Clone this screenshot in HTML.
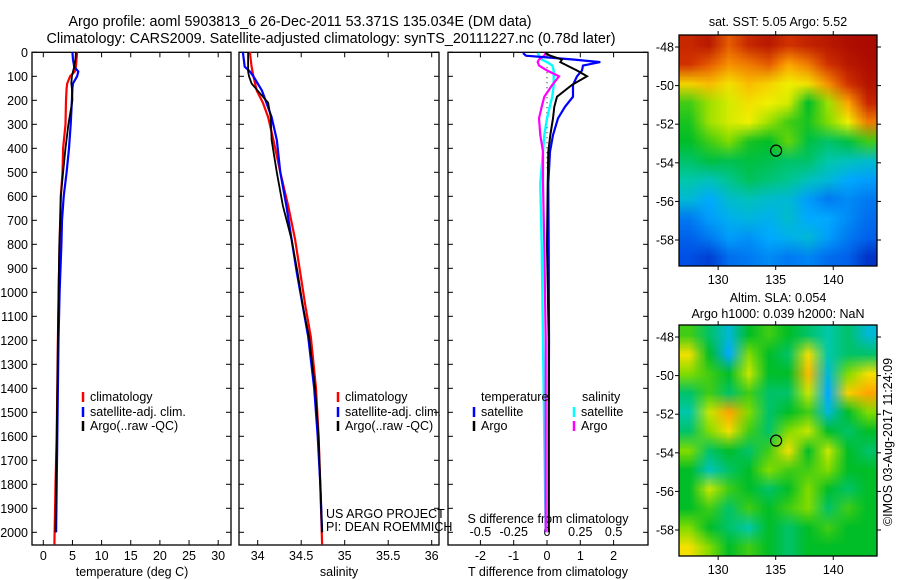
<!DOCTYPE html>
<html><head><meta charset="utf-8"><style>
body{margin:0;background:#fff;}
#wrap{position:relative;width:900px;height:580px;overflow:hidden;background:#fff;font-family:"Liberation Sans",sans-serif;}
canvas{position:absolute;}
svg{position:absolute;left:0;top:0;}
text{font-family:"Liberation Sans",sans-serif;font-size:12.5px;fill:#000;}
</style></head><body>
<div id="wrap">
<canvas id="sst" width="198" height="231" style="left:679px;top:35px"></canvas>
<canvas id="sla" width="198" height="231" style="left:679px;top:325px"></canvas>
<svg id="fig" width="900" height="580"></svg>
</div>
<script>
// ---- data ----
const tDepth=[0,30,60,80,100,130,150,200,300,400,500,600,700,800,1000,1200,1400,1600,1800,2000];
const tClim=[5.8,5.7,5.6,5.4,4.6,4.1,4.0,3.9,3.8,3.4,3.3,3.0,2.9,2.8,2.65,2.5,2.4,2.3,2.1,1.9];
const tSat=[5.0,5.1,5.3,6.0,5.8,5.1,5.0,4.9,4.7,4.4,4.0,3.5,3.2,3.1,2.8,2.6,2.5,2.4,2.3,2.2];
const tArgo=[5.6,5.5,5.3,5.1,4.9,4.8,4.9,5.0,4.3,3.8,3.4,3.0,2.9,2.75,2.6,2.5,2.4,2.3,2.2,2.1];
const sDepth=[0,30,60,80,100,130,160,210,270,365,500,640,780,920,1060,1185,1400,1600,1800,2000];
const sClim=[33.91,33.92,33.93,33.94,33.95,33.97,33.99,34.06,34.12,34.18,34.26,34.35,34.43,34.49,34.55,34.61,34.67,34.70,34.72,34.74];
const sSat=[33.83,33.84,33.85,33.91,33.95,34.0,34.05,34.1,34.16,34.22,34.26,34.33,34.39,34.45,34.52,34.58,34.65,34.69,34.72,34.74];
const sArgo=[33.89,33.89,33.89,33.89,33.9,33.93,34.0,34.12,34.15,34.16,34.22,34.29,34.39,34.46,34.52,34.59,34.66,34.70,34.72,34.74];
const dDepth=[3,14,30,41,55,76,100,136,185,227,275,345,414,546,800,1200,1600,2000];
const dTSat=[-0.72,-0.63,0.78,1.6,1.08,1.05,0.9,0.78,0.78,0.54,0.33,0.18,0.09,0.04,0.05,0.06,0.05,0.05];
const dTArgo=[-0.05,0.1,0.45,0.4,0.6,0.9,1.2,0.75,0.3,0.22,0.18,0.1,0.04,0.02,0.0,0.05,0.05,0.05];
const dSArgo=[-0.01,-0.02,-0.06,-0.07,-0.06,0.0,0.09,0.04,-0.02,-0.04,-0.06,-0.05,-0.03,-0.03,-0.02,-0.01,-0.01,-0.01];
const dSSat=[-0.07,-0.06,-0.04,0.0,0.04,0.05,0.05,0.05,0.04,0.02,0.0,-0.02,-0.03,-0.05,-0.04,-0.03,-0.02,-0.01];
const depthTicks=[0,100,200,300,400,500,600,700,800,900,1000,1100,1200,1300,1400,1500,1600,1700,1800,1900,2000];
const tTicks=[0,5,10,15,20,25,30];
const sTicks=[34,34.5,35,35.5,36];
const sTickLabels=["34","34.5","35","35.5","36"];
const dTTicks=[-2,-1,0,1,2];
const dSTicks=[-0.5,-0.25,0,0.25,0.5];
const dSTickLabels=["-0.5","-0.25","0","0.25","0.5"];
const latTicks=[-48,-50,-52,-54,-56,-58];
const lonTicks=[130,135,140];
const floatLon=135.034, floatLat=-53.371;
const sstGrid=[
[.92,.95,.85,.92,.95,.9,.93,.95,.97,.98],
[.9,.85,.8,.82,.85,.78,.82,.9,.95,.97],
[.72,.75,.7,.75,.72,.68,.7,.8,.9,.96],
[.55,.62,.66,.7,.68,.66,.5,.62,.78,.92],
[.52,.62,.66,.68,.62,.55,.52,.6,.68,.82],
[.5,.55,.6,.52,.5,.58,.48,.45,.48,.55],
[.45,.48,.47,.48,.47,.45,.45,.4,.38,.36],
[.4,.38,.42,.46,.44,.42,.38,.35,.3,.28],
[.35,.3,.36,.38,.36,.35,.28,.22,.25,.22],
[.22,.28,.32,.34,.32,.36,.3,.3,.25,.2],
[.18,.22,.28,.26,.3,.32,.35,.28,.22,.18],
[.15,.12,.2,.22,.25,.22,.24,.2,.18,.1]];
const slaGrid=[
[.55,.45,.35,.5,.55,.5,.45,.4,.45,.35],
[.7,.5,.3,.6,.5,.45,.7,.4,.45,.45],
[.6,.55,.5,.65,.5,.5,.75,.35,.6,.7],
[.45,.55,.45,.55,.45,.45,.65,.3,.72,.78],
[.4,.65,.78,.6,.45,.5,.55,.35,.5,.6],
[.45,.6,.7,.55,.45,.6,.65,.5,.45,.5],
[.6,.45,.5,.45,.55,.7,.5,.65,.5,.45],
[.5,.38,.45,.5,.6,.55,.55,.6,.5,.5],
[.5,.65,.55,.5,.45,.5,.6,.5,.45,.5],
[.5,.55,.45,.55,.5,.55,.6,.45,.55,.5],
[.6,.5,.45,.4,.5,.45,.5,.55,.5,.5],
[.7,.6,.5,.55,.5,.45,.5,.5,.5,.5]];

// ---- helpers ----
const NS="http://www.w3.org/2000/svg";
const svg=document.getElementById('fig');
function el(tag,attrs,parent){const e=document.createElementNS(NS,tag);for(const k in attrs)e.setAttribute(k,attrs[k]);(parent||svg).appendChild(e);return e;}
function txt(x,y,s,anchor){const t=el('text',{x:x,y:y,'text-anchor':anchor||'middle'});t.textContent=s;return t;}
const TOP=52.3, BOT=545, PXD=0.24;
const yD=d=>TOP+d*PXD;
const P1={l:32,r:231}, P2={l:239,r:439}, P3={l:448,r:648};
const xT=v=>43.3+v*5.83;
const xS=v=>257.7+(v-34)*87;
const xDT=v=>547+v*33.3;
const xDS=v=>547+v*133.2;

function panel(P,name){
  const r=el('rect',{x:P.l,y:TOP,width:P.r-P.l,height:BOT-TOP,fill:'none',stroke:'#000','stroke-width':1.3});
  
  
  depthTicks.forEach(d=>{const y=yD(d);
    el('line',{x1:P.l,x2:P.l+5,y1:y,y2:y,stroke:'#000'});
    el('line',{x1:P.r-5,x2:P.r,y1:y,y2:y,stroke:'#000'});});
}
function xticks(ticks,fx,labels,ly,name){
  ticks.forEach((v,i)=>{const x=fx(v);
    el('line',{x1:x,x2:x,y1:BOT,y2:BOT-5,stroke:'#000'});
    el('line',{x1:x,x2:x,y1:TOP,y2:TOP+5,stroke:'#000'});
    if(ly){const t=txt(x,ly,labels?labels[i]:String(v));
      
      }});
}
function line(xs,ds,fx,color,w,name){
  const pts=xs.map((v,i)=>fx(v).toFixed(1)+','+yD(ds[i]).toFixed(1)).join(' ');
  const p=el('polyline',{points:pts,fill:'none',stroke:color,'stroke-width':w,'stroke-linejoin':'miter'});
  
  
}
function legend(x,y,color,label,name){
  el('line',{x1:x,x2:x,y1:y-9,y2:y+1,stroke:color,'stroke-width':2.5});
  const t=txt(x+7,y,label,'start');
  
  
}

// titles
let t=txt(300,26,"Argo profile: aoml 5903813_6 26-Dec-2011 53.371S 135.034E (DM data)");
t.setAttribute('style','font-size:14.3px');


t=txt(331,43,"Climatology: CARS2009. Satellite-adjusted climatology: synTS_20111227.nc (0.78d later)");
t.setAttribute('style','font-size:14.4px');



// panel 1 temperature
panel(P1,'temperature-panel');
depthTicks.forEach(d=>{const tt=txt(28,yD(d)+4.5,String(d),'end');
  
  });
xticks(tTicks,xT,null,560,'temperature-tick-label');
t=txt(132,576,"temperature (deg C)");


line(tClim,tDepth.map((d,i)=>i==tDepth.length-1?2050:d),xT,'#f00',2.2,'temp-climatology-line');
line(tSat,tDepth,xT,'#00f',2.2,'temp-satellite-line');
line(tArgo,tDepth,xT,'#000',1.8,'temp-argo-line');
legend(83,401,'#f00','climatology','legend-climatology');
legend(83,416,'#00f','satellite-adj. clim.','legend-satellite');
legend(83,430,'#000','Argo(..raw -QC)','legend-argo');

// panel 2 salinity
panel(P2,'salinity-panel');
xticks(sTicks,xS,sTickLabels,560,'salinity-tick-label');
t=txt(339,576,"salinity");


line(sClim,sDepth.map((d,i)=>i==sDepth.length-1?2050:d),xS,'#f00',2.2,'sal-climatology-line');
line(sSat,sDepth,xS,'#00f',2.2,'sal-satellite-line');
line(sArgo,sDepth,xS,'#000',1.8,'sal-argo-line');
legend(338,401,'#f00','climatology','legend-climatology-2');
legend(338,416,'#00f','satellite-adj. clim.','legend-satellite-2');
legend(338,430,'#000','Argo(..raw -QC)','legend-argo-2');
t=txt(326,518,"US ARGO PROJECT",'start');


t=txt(326,531,"PI: DEAN ROEMMICH",'start');



// panel 3 differences
panel(P3,'difference-panel');
xticks(dTTicks,xDT,null,560,'t-diff-tick-label');
dSTicks.forEach((v,i)=>{const tt=txt(xDS(v),536,dSTickLabels[i]);
  
  });
t=txt(548,523,"S difference from climatology");


t=txt(548,576,"T difference from climatology");


el('line',{x1:xDT(0),x2:xDT(0),y1:TOP,y2:yD(500),stroke:'#000','stroke-dasharray':'1,4'});
line(dSSat,dDepth,xDS,'#0ff',2.4,'s-diff-satellite-line');
line(dSArgo,dDepth,xDS,'#f0f',2.2,'s-diff-argo-line');
line(dTSat,dDepth,xDT,'#00f',2.2,'t-diff-satellite-line');
line(dTArgo,dDepth,xDT,'#000',2,'t-diff-argo-line');
t=txt(481,401,"temperature",'start');


t=txt(582,401,"salinity",'start');


legend(474,416,'#00f','satellite','legend-t-satellite');
legend(474,430,'#000','Argo','legend-t-argo');
legend(574,416,'#0ff','satellite','legend-s-satellite');
legend(574,430,'#f0f','Argo','legend-s-argo');

// ---- maps ----
const MAP={l:679,r:877,lon0:126.6,lon1:143.8};
const lonX=v=>MAP.l+(v-MAP.lon0)*(MAP.r-MAP.l)/(MAP.lon1-MAP.lon0);
const cmapStops=[0,0.15,0.3,0.4,0.5,0.6,0.68,0.78,0.88,1];
const cmapColors=[[0,0,140],[0,80,230],[0,170,255],[0,200,170],[0,190,40],[130,220,0],[240,240,0],[255,165,0],[220,60,0],[160,0,0]];
function cmap(v){v=Math.max(0,Math.min(1,v));
  for(let i=0;i<cmapStops.length-1;i++){
    if(v<=cmapStops[i+1]){const f=(v-cmapStops[i])/(cmapStops[i+1]-cmapStops[i]);
      const a=cmapColors[i],b=cmapColors[i+1];
      return [a[0]+(b[0]-a[0])*f,a[1]+(b[1]-a[1])*f,a[2]+(b[2]-a[2])*f];}}
  return cmapColors[cmapColors.length-1];}
function drawMap(id,grid){
  const rows=grid.length, cols=grid[0].length;
  const small=document.createElement('canvas');small.width=cols;small.height=rows;
  const sc=small.getContext('2d');const img=sc.createImageData(cols,rows);
  grid.forEach((row,j)=>row.forEach((v,i)=>{const c=cmap(v);const k=(j*cols+i)*4;
    img.data[k]=c[0];img.data[k+1]=c[1];img.data[k+2]=c[2];img.data[k+3]=255;}));
  sc.putImageData(img,0,0);
  const cv=document.getElementById(id);const ctx=cv.getContext('2d');
  ctx.imageSmoothingEnabled=true;ctx.drawImage(small,0,0,cv.width,cv.height);
}
drawMap('sst',sstGrid);
drawMap('sla',slaGrid);
function mapAxes(top,bot,lat48y,lat58y,name,labelY){
  const latY=v=>lat48y+(-48-v)*(lat58y-lat48y)/10;
  const r=el('rect',{x:MAP.l,y:top,width:MAP.r-MAP.l,height:bot-top,fill:'none',stroke:'#000','stroke-width':1.3});
  
  
  latTicks.forEach(v=>{const y=latY(v);
    el('line',{x1:MAP.l-4,x2:MAP.l,y1:y,y2:y,stroke:'#000'});
    el('line',{x1:MAP.r,x2:MAP.r+4,y1:y,y2:y,stroke:'#000'});
    const tt=txt(MAP.l-5,y+4.5,String(v),'end');
    
    });
  lonTicks.forEach(v=>{const x=lonX(v);
    el('line',{x1:x,x2:x,y1:top-4,y2:top,stroke:'#000'});
    el('line',{x1:x,x2:x,y1:bot,y2:bot+4,stroke:'#000'});
    const tt=txt(x,labelY,String(v));
    
    });
  const c=el('circle',{cx:lonX(floatLon),cy:latY(floatLat),r:5.5,fill:'none',stroke:'#000','stroke-width':1.2});
  
  
}
mapAxes(35,266,47,240,'sst-map-frame',284);
mapAxes(325,556,337,530,'sla-map-frame',574);
t=txt(778,26,"sat. SST: 5.05 Argo: 5.52");


t=txt(778,302,"Altim. SLA: 0.054");


t=txt(778,318,"Argo h1000: 0.039 h2000: NaN");


t=txt(0,0,"\u00a9IMOS 03-Aug-2017 11:24:09");
t.setAttribute('transform','translate(892,442) rotate(-90)');


</script>
</body></html>
